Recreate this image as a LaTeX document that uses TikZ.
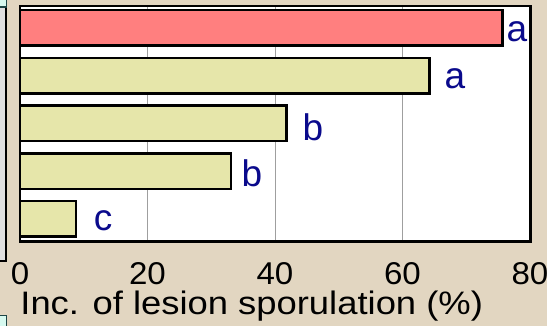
\documentclass[tikz,border=0pt]{standalone}
\usepackage{fontspec}
\setsansfont{Liberation Sans}
\newfontfamily\titlefont[FakeStretch=1.12]{Liberation Sans}
\newfontfamily\tickfont[FakeStretch=1.05]{Liberation Sans}
\definecolor{poster}{RGB}{226,214,193}
\definecolor{sidegray}{RGB}{224,224,224}
\definecolor{sidecyan}{RGB}{215,250,240}
\definecolor{sideteal}{RGB}{30,70,70}
\definecolor{barred}{RGB}{255,127,127}
\definecolor{baryellow}{RGB}{230,230,170}
\definecolor{letterblue}{RGB}{10,10,140}

\begin{document}
\begin{tikzpicture}[x=1pt,y=-1pt,font=\sffamily]
    \tikzstyle{bar}=[draw=black,line width=2.5pt]
    \tikzstyle{gridline}=[gray!75,line width=0.8pt]
    \tikzstyle{letter}=[text=letterblue,font=\fontsize{37}{40}\selectfont\sffamily,inner sep=0pt,anchor=base]
    \tikzstyle{tick}=[font=\fontsize{31.5}{34}\selectfont\tickfont,inner sep=0pt,anchor=base]
    \useasboundingbox (0,0) rectangle (547,326);
    \fill[poster] (0,0) rectangle (547,326);
    % poster panels cut at the left edge
    \filldraw[fill=sidegray,draw=black,line width=2pt] (-3,7) rectangle (6.3,261);
    \filldraw[fill=sidecyan,draw=sideteal,line width=1.2pt] (-3,-3) rectangle (6.3,7);
    \filldraw[fill=sidecyan,draw=sideteal,line width=1.5pt] (-3,315.5) rectangle (6.3,330);
    % plot area and grid
    \fill[white] (20,6) rectangle (530.5,241.5);
    \foreach \v in {20,40,60}
      \draw[gridline] ({20+\v*6.375},6) -- ({20+\v*6.375},241.5);
    % bars: value / centre / fill
    \foreach \v/\y/\c in {75.7/28/barred,64.2/75.75/baryellow,41.8/123.5/baryellow,33.1/171.25/baryellow,8.8/219/baryellow}
      \draw[bar,fill=\c] (20,\y-17.75) rectangle ({20+\v*6.375},\y+17.75);
    \draw[line width=2.2pt] (20,6) rectangle (530.5,241.5);
    % letters of the mean separation
    \node[letter] (l1) at (517,42) {a};
    \node[letter] (l2) at (455,88.5) {a};
    \node[letter] (l3) at (313,141) {b};
    \node[letter] (l4) at (252,187) {b};
    \node[letter] (l5) at (103,231) {c};
    % axis
    \foreach \v in {0,20,...,80}
      \node[tick] (t\v) at ({20+\v*6.375},285) {\v};
    \node[font=\fontsize{32.5}{35}\selectfont\titlefont,inner sep=0pt,anchor=base] (xlabel) at (251.7,315) {Inc. of lesion sporulation (\%)};
\end{tikzpicture}
\end{document}
